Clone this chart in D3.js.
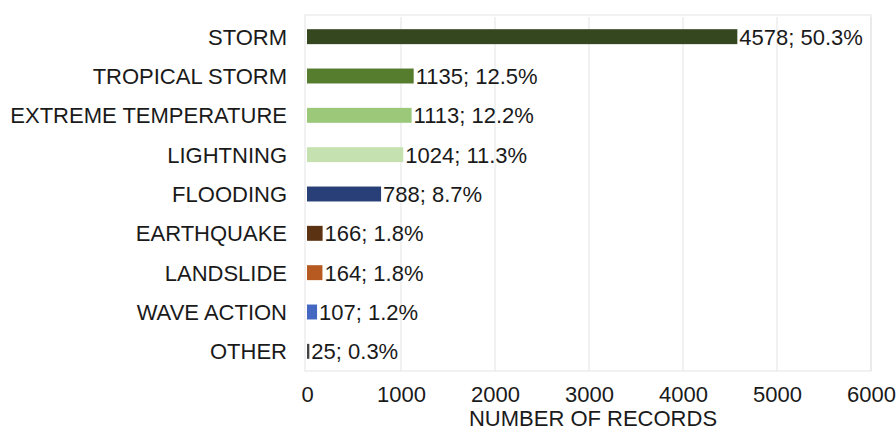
<!DOCTYPE html>
<html>
<head>
<meta charset="utf-8">
<script src="https://cdn.jsdelivr.net/npm/d3@7"></script>
<style>
  html, body { margin: 0; padding: 0; background: #ffffff; }
  svg { display: block; }
  text { font-family: "Liberation Sans", Arial, sans-serif; fill: #1a1a1a; }
</style>
</head>
<body>
<svg id="chart" width="896" height="432"></svg>
<script>
// Records by hazard type
const categories = ["STORM", "TROPICAL STORM", "EXTREME TEMPERATURE", "LIGHTNING", "FLOODING",
                    "EARTHQUAKE", "LANDSLIDE", "WAVE ACTION", "OTHER"];
const records = [4578, 1135, 1113, 1024, 788, 166, 164, 107, 25];
const shares = ["50.3%", "12.5%", "12.2%", "11.3%", "8.7%", "1.8%", "1.8%", "1.2%", "0.3%"];
const barColors = ["#34471f", "#567c2e", "#9cc879", "#c6e1b0", "#283f78",
                   "#5b3313", "#b65a22", "#4467c2", "#444444"];
const xTicks = [0, 1000, 2000, 3000, 4000, 5000, 6000];
const xTitle = "NUMBER OF RECORDS";

const svg = d3.select("#chart");
const plot = { left: 307, right: 871, top: 17, bottom: 371 };
const fontSize = 22;

const x = d3.scaleLinear().domain([0, 6000]).range([plot.left, plot.right]);
const y = d3.scaleBand().domain(categories).range([plot.top, plot.bottom]).paddingInner(0.62).paddingOuter(0.31);

// vertical gridlines
svg.append("g").selectAll("line").data(xTicks.slice(1)).join("line")
  .attr("x1", d => x(d)).attr("x2", d => x(d))
  .attr("y1", plot.top).attr("y2", plot.bottom)
  .attr("stroke", "#e3e3e3").attr("stroke-width", 1);

// plot frame
svg.append("rect")
  .attr("x", plot.left - 2).attr("y", plot.top - 2)
  .attr("width", plot.right - plot.left + 2).attr("height", plot.bottom - plot.top + 2)
  .attr("fill", "none").attr("stroke", "#e3e3e3").attr("stroke-width", 1);

// bars
svg.append("g").selectAll("rect").data(categories).join("rect")
  .attr("x", x(0))
  .attr("y", d => y(d))
  .attr("width", (d, i) => x(records[i]) - x(0))
  .attr("height", y.bandwidth())
  .attr("fill", (d, i) => barColors[i]);

// value labels
svg.append("g").selectAll("text").data(categories).join("text")
  .attr("x", (d, i) => x(records[i]) + 2)
  .attr("y", d => y(d) + y.bandwidth() / 2)
  .attr("dy", "0.36em")
  .attr("font-size", fontSize)
  .text((d, i) => `${records[i]}; ${shares[i]}`);

// category axis
const yAxis = d3.axisLeft(y).tickSize(0).tickPadding(20);
const gy = svg.append("g").attr("transform", `translate(${plot.left},0)`).call(yAxis);
gy.select(".domain").remove();
gy.selectAll("text").attr("font-size", fontSize).attr("dy", "0.36em").style("font-family", null);

// value axis
const xAxis = d3.axisBottom(x).tickValues(xTicks).tickFormat(d3.format("d")).tickSize(0).tickPadding(15);
const gx = svg.append("g").attr("transform", `translate(0,${plot.bottom})`).call(xAxis);
gx.select(".domain").remove();
gx.selectAll("text").attr("font-size", fontSize).style("font-family", null);

svg.append("text")
  .attr("x", (plot.left + plot.right) / 2 + 4)
  .attr("y", 426)
  .attr("text-anchor", "middle")
  .attr("font-size", fontSize)
  .text(xTitle);
</script>
</body>
</html>
